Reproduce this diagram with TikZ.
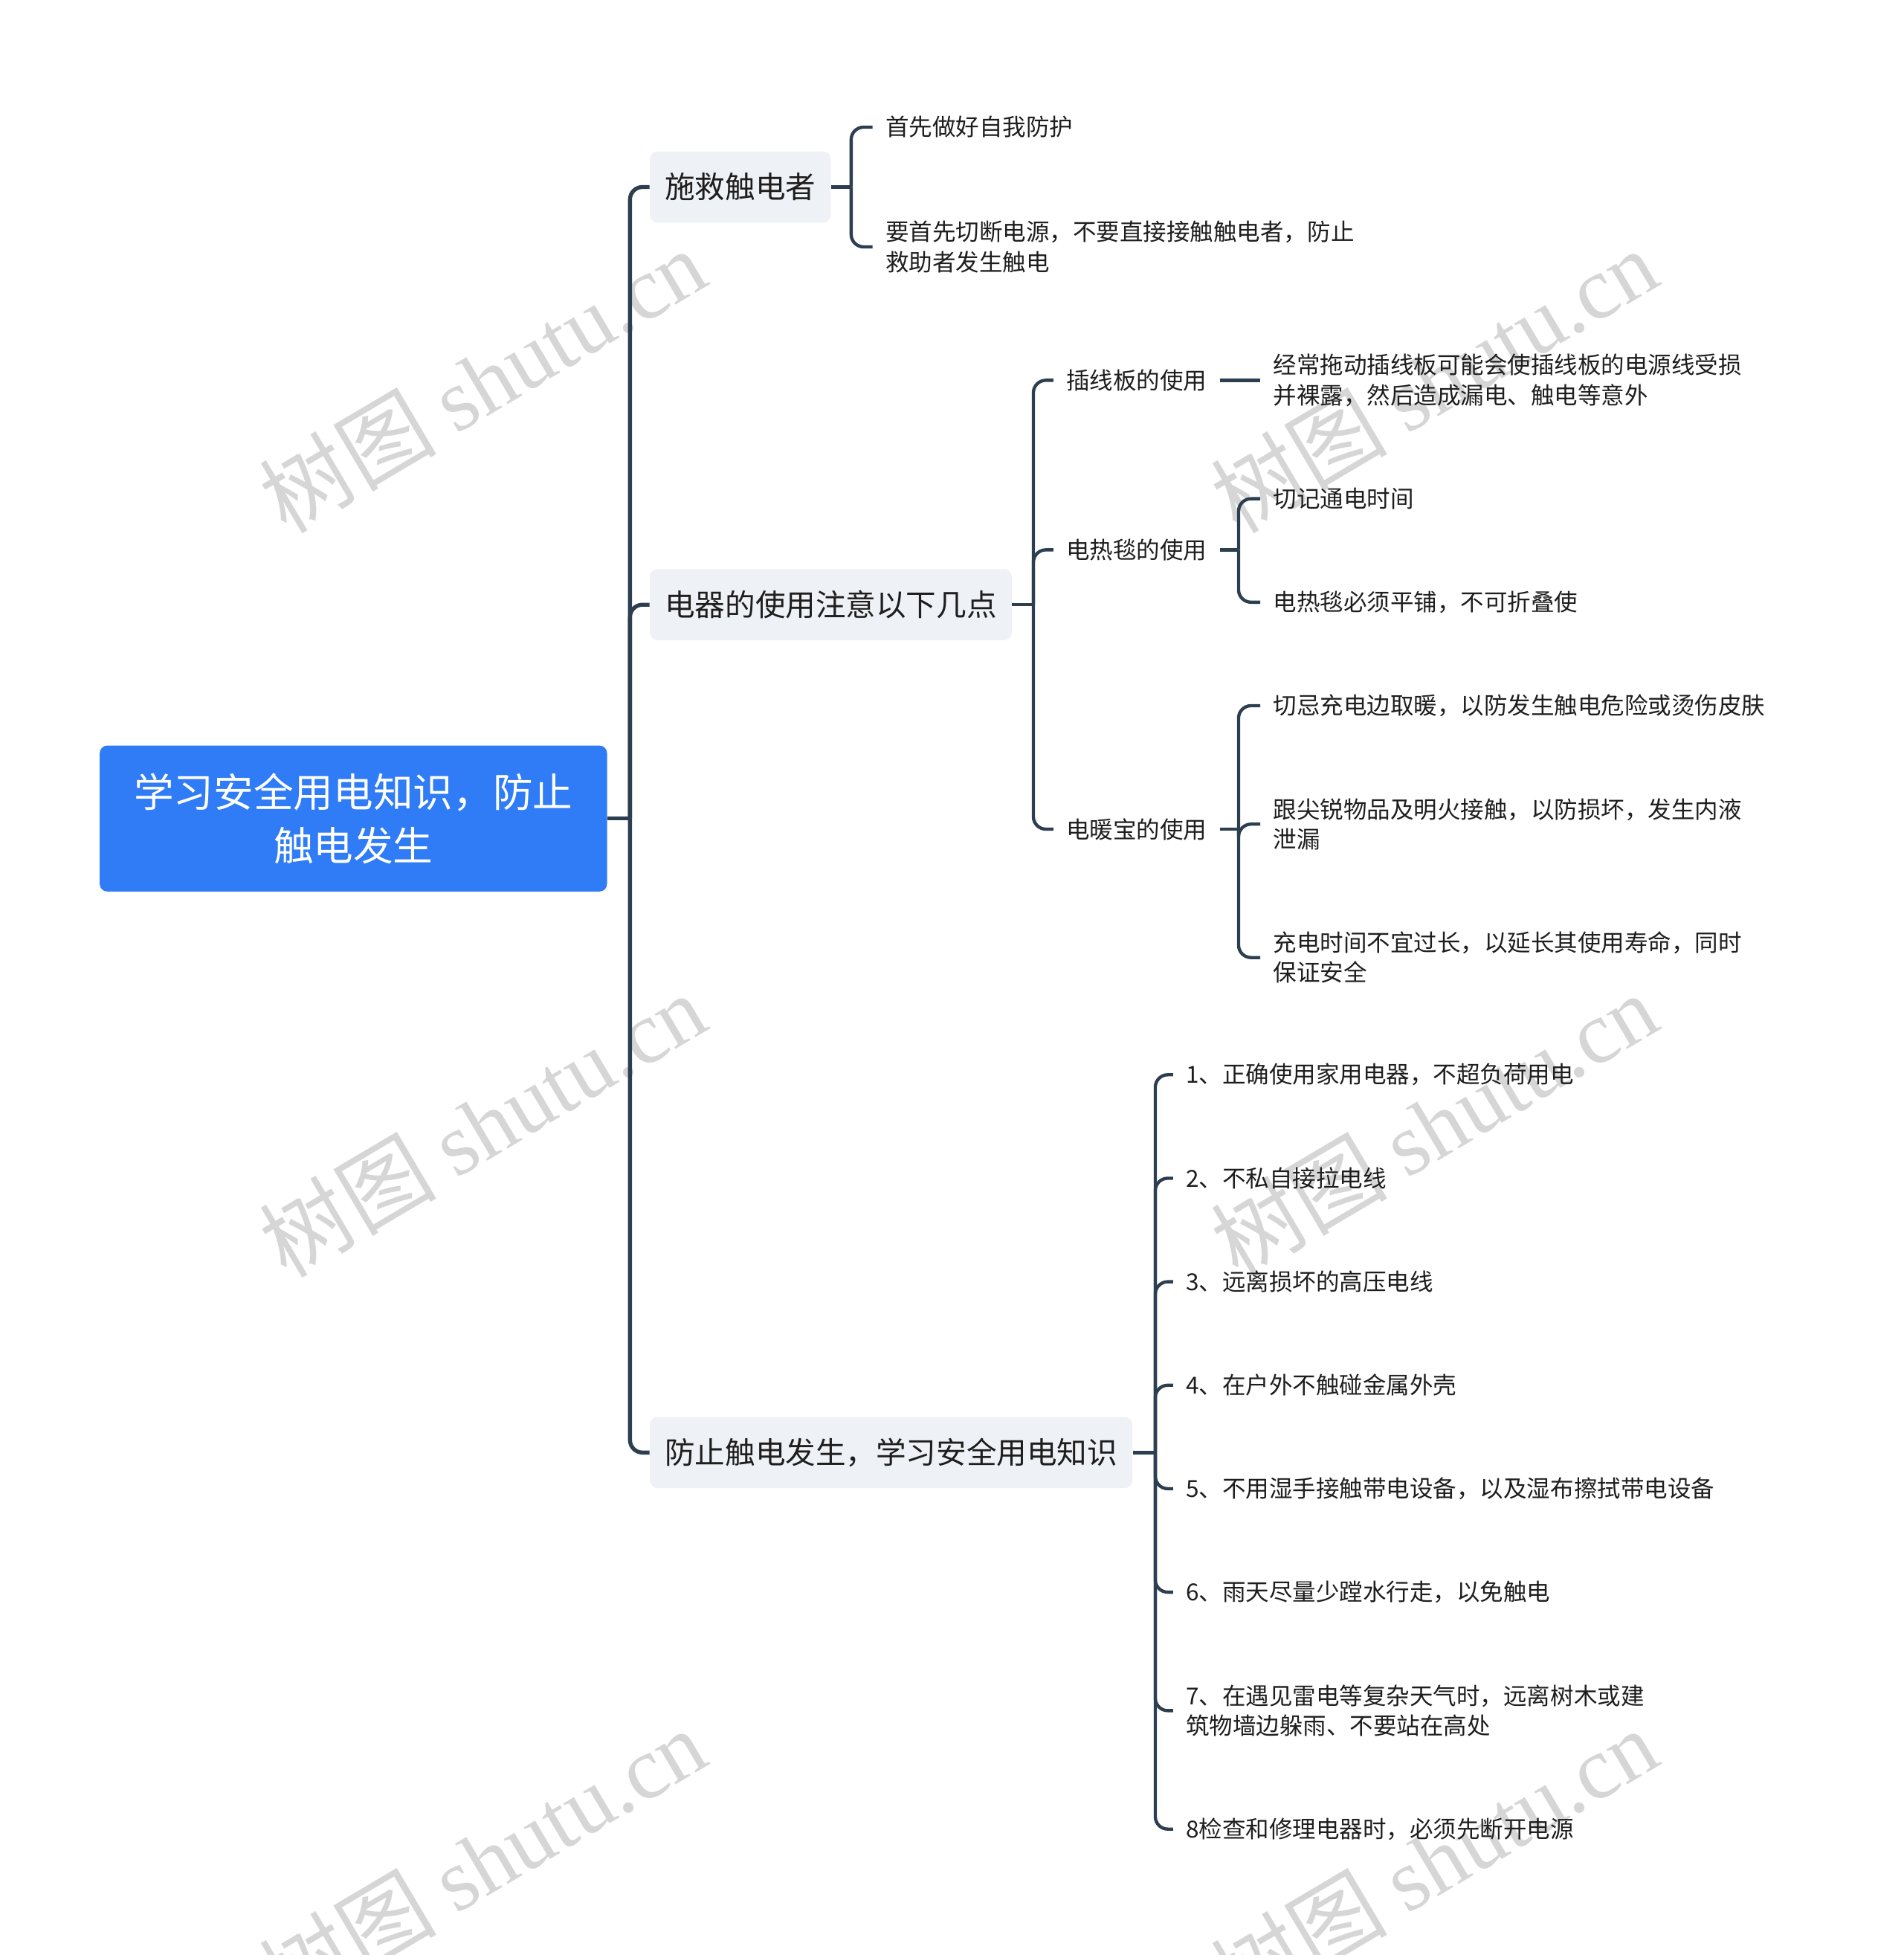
\documentclass[tikz,border=0pt]{standalone}
\usepackage{fontspec}
\setmainfont{Noto Sans CJK SC}
\newfontfamily\wmfont{Liberation Serif}
\definecolor{rootblue}{HTML}{2F7CF6}
\definecolor{branchgray}{HTML}{EEF1F5}
\definecolor{linkcol}{HTML}{2C3E50}
\definecolor{wmgray}{HTML}{D6D6D6}
\definecolor{textcol}{HTML}{1E1E1E}

\begin{document}
\begin{tikzpicture}[x=0.5pt,y=-0.5pt,
  root/.style={fill=rootblue,text=white,rounded corners=3pt,minimum width=203.5pt,minimum height=58.5pt,align=center,font=\fontsize{16pt}{21.5pt}\selectfont},
  branch/.style={anchor=west,fill=branchgray,text=textcol,rounded corners=3pt,minimum height=28.5pt,inner xsep=6pt,font=\fontsize{12.1pt}{15pt}\selectfont},
  sub/.style={anchor=west,text=textcol,inner xsep=5pt,inner ysep=2pt,align=left,font=\fontsize{9.4pt}{12pt}\selectfont},
  link/.style={draw=linkcol,line width=1.3pt,rounded corners=5pt},
  trunk/.style={link,line width=1.6pt},
  wm/.style={text=wmgray,rotate=30.6,font=\fontsize{35.5pt}{36pt}\selectfont}]
\useasboundingbox (0,0) rectangle (1527,1568);
% watermarks
\foreach \wx in {387,1150}
  \foreach \wy in {305,902,1492}
    \node[wm] at (\wx,\wy) {树图 {\wmfont shutu.cn}};

% root and first level
\node[root] (root) at (283.5,656.5) {学习安全用电知识，防止\\触电发生};
\node[branch] (rescue) at (521,150) {施救触电者};
\node[branch] (usage) at (521,485) {电器的使用注意以下几点};
\node[branch] (prevent) at (521,1165) {防止触电发生，学习安全用电知识};

% rescue
\node[sub] (r1) at (700,102) {首先做好自我防护};
\node[sub] (r2) at (700,198) {要首先切断电源，不要直接接触触电者，防止\\救助者发生触电};

% usage
\node[sub] (strip) at (845,305) {插线板的使用};
\node[sub] (blanket) at (845,441) {电热毯的使用};
\node[sub] (warmer) at (845,665) {电暖宝的使用};
\node[sub] (s1) at (1011,305) {经常拖动插线板可能会使插线板的电源线受损\\并裸露，然后造成漏电、触电等意外};
\node[sub] (b1) at (1011,400) {切记通电时间};
\node[sub] (b2) at (1011,483) {电热毯必须平铺，不可折叠使};
\node[sub] (w1) at (1011,566) {切忌充电边取暖，以防发生触电危险或烫伤皮肤};
\node[sub] (w2) at (1011,661) {跟尖锐物品及明火接触，以防损坏，发生内液\\泄漏};
\node[sub] (w3) at (1011,768) {充电时间不宜过长，以延长其使用寿命，同时\\保证安全};

% prevent
\node[sub] (p1) at (941,862) {1、正确使用家用电器，不超负荷用电};
\node[sub] (p2) at (941,945) {2、不私自接拉电线};
\node[sub] (p3) at (941,1028) {3、远离损坏的高压电线};
\node[sub] (p4) at (941,1111) {4、在户外不触碰金属外壳};
\node[sub] (p5) at (941,1194) {5、不用湿手接触带电设备，以及湿布擦拭带电设备};
\node[sub] (p6) at (941,1277) {6、雨天尽量少蹚水行走，以免触电};
\node[sub] (p7) at (941,1372) {7、在遇见雷电等复杂天气时，远离树木或建\\筑物墙边躲雨、不要站在高处};
\node[sub] (p8) at (941,1467) {8检查和修理电器时，必须先断开电源};

% connectors
\draw[trunk] (root.east) -- ++(18,0) coordinate (rootj);
\foreach \n in {rescue,usage,prevent}
  \draw[trunk] (rootj) |- (\n.west);
\draw[link] (rescue.east) -- ++(16,0) coordinate (rescuej);
\foreach \n in {r1,r2}
  \draw[link] (rescuej) |- (\n.west);
\draw[link] (usage.east) -- ++(17,0) coordinate (usagej);
\foreach \n in {strip,blanket,warmer}
  \draw[link] (usagej) |- (\n.west);
\draw[link] (strip.east) -- (s1.west);
\draw[link] (blanket.east) -- ++(15,0) coordinate (blanketj);
\foreach \n in {b1,b2}
  \draw[link] (blanketj) |- (\n.west);
\draw[link] (warmer.east) -- ++(15,0) coordinate (warmerj);
\foreach \n in {w1,w2,w3}
  \draw[link] (warmerj) |- (\n.west);
\draw[link] (prevent.east) -- ++(18,0) coordinate (preventj);
\foreach \n in {p1,p2,p3,p4,p5,p6,p7,p8}
  \draw[link] (preventj) |- (\n.west);
\end{tikzpicture}
\end{document}
